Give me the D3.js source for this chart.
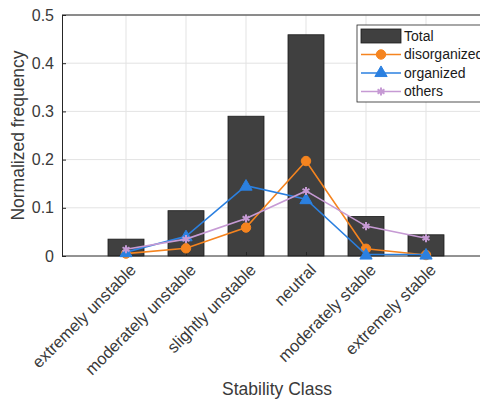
<!DOCTYPE html>
<html>
<head>
<meta charset="utf-8">
<script src="https://cdn.jsdelivr.net/npm/d3@7"></script>
<style>
  body { margin: 0; background: #fff; }
  svg { display: block; font-family: "Liberation Sans", Arial, sans-serif; }
</style>
</head>
<body>
<div class="chart"></div>
<script>
// 데이터
const categories = ['extremely unstable', 'moderately unstable', 'slightly unstable', 'neutral', 'moderately stable', 'extremely stable'];
const total        = [0.035, 0.094, 0.290, 0.459, 0.082, 0.044];
const disorganized = [0.005, 0.016, 0.059, 0.197, 0.015, 0.002];
const organized    = [0.008, 0.041, 0.146, 0.118, 0.003, 0.003];
const others       = [0.014, 0.035, 0.078, 0.135, 0.062, 0.037];
const yTicks = [0, 0.1, 0.2, 0.3, 0.4, 0.5];

const W = 480, H = 400;
const Margin = {top: 15, left: 62, bottom: 144};
const textColor = '#3a3a3a';

const svg = d3.select('.chart').append('svg')
  .attr('width', W).attr('height', H);

// x: 카테고리 위치 1..6
const x = d3.scaleLinear([0, 7], [66, 486]);
const y = d3.scaleLinear([0, 0.5], [H - Margin.bottom, Margin.top]);
const barW = x(0.6) - x(0);
const xLeft = Margin.left, xRight = x(7);

// 그리드
svg.append('g')
  .selectAll('line')
  .data(d3.range(1, 7))
  .join('line')
    .attr('x1', d => x(d)).attr('x2', d => x(d))
    .attr('y1', y(0)).attr('y2', y(0.5))
    .attr('stroke', '#e3e3e3');
svg.append('g')
  .selectAll('line')
  .data(yTicks.slice(1))
  .join('line')
    .attr('x1', xLeft).attr('x2', xRight)
    .attr('y1', d => y(d)).attr('y2', d => y(d))
    .attr('stroke', '#e3e3e3');

// 막대
svg.append('g')
  .selectAll('rect')
  .data(total)
  .join('rect')
    .attr('x', (d, i) => x(i + 1) - barW / 2)
    .attr('y', d => y(d))
    .attr('width', barW)
    .attr('height', d => y(0) - y(d))
    .attr('fill', '#404040')
    .attr('stroke', '#1a1a1a')
    .attr('stroke-width', 0.8);

// 축
const yAxis = d3.axisLeft(y).tickValues(yTicks).tickFormat(d => d === 0 ? '0' : d3.format('.1f')(d))
  .tickSizeInner(-4).tickSizeOuter(0).tickPadding(8);
svg.append('g')
  .attr('transform', `translate(${xLeft},0)`)
  .call(yAxis)
  .call(g => g.select('.domain').attr('stroke', '#262626'))
  .call(g => g.selectAll('.tick line').attr('stroke', '#262626'))
  .selectAll('text')
    .attr('font-size', '16px')
    .attr('fill', textColor);

const xAxis = d3.axisBottom(x).tickValues(d3.range(1, 7)).tickFormat('')
  .tickSizeInner(-4).tickSizeOuter(0);
svg.append('g')
  .attr('transform', `translate(0,${y(0)})`)
  .call(xAxis)
  .call(g => g.select('.domain').attr('d', `M${xLeft},0H${xRight}`).attr('stroke', '#262626'))
  .call(g => g.selectAll('.tick line').attr('stroke', '#262626'));

// 위쪽 테두리
svg.append('line')
  .attr('x1', xLeft).attr('x2', xRight)
  .attr('y1', y(0.5)).attr('y2', y(0.5))
  .attr('stroke', '#262626');

// x 눈금 레이블 (45도 회전)
svg.append('g')
  .selectAll('text')
  .data(categories)
  .join('text')
    .attr('transform', (d, i) => `translate(${x(i + 1) + 11},${y(0) + 15}) rotate(-45)`)
    .attr('text-anchor', 'end')
    .attr('font-size', '16.5px')
    .attr('fill', textColor)
    .text(d => d);

// 축 제목
svg.append('text')
  .attr('transform', `translate(24,${(y(0) + y(0.5)) / 2}) rotate(-90)`)
  .attr('text-anchor', 'middle')
  .attr('font-size', '17.5px')
  .attr('fill', textColor)
  .text('Normalized frequency');
svg.append('text')
  .attr('x', 277).attr('y', 395)
  .attr('text-anchor', 'middle')
  .attr('font-size', '17.5px')
  .attr('fill', textColor)
  .text('Stability Class');

// 선 시리즈
const series = [
  {name: 'disorganized', values: disorganized, color: '#f5841f', marker: 'circle'},
  {name: 'organized', values: organized, color: '#2b80e0', marker: 'triangle'},
  {name: 'others', values: others, color: '#c69ad4', marker: 'star'}
];
const line = d3.line().x((d, i) => x(i + 1)).y(d => y(d));
const markerPath = (m) => {
  if (m === 'circle') return d3.symbol(d3.symbolCircle, 70)();
  if (m === 'triangle') return d3.symbol(d3.symbolTriangle, 65)();
  return d3.symbol(d3.symbolAsterisk, 45)();
};

series.forEach(s => {
  const g = svg.append('g');
  g.append('path')
    .attr('d', line(s.values))
    .attr('fill', 'none')
    .attr('stroke', s.color)
    .attr('stroke-width', 1.6);
  g.selectAll('path.m')
    .data(s.values)
    .join('path')
      .attr('class', 'm')
      .attr('transform', (d, i) => `translate(${x(i + 1)},${y(d) + (s.marker === 'triangle' ? 1 : 0)})`)
      .attr('d', markerPath(s.marker))
      .attr('fill', s.color)
      .attr('stroke', s.color)
      .attr('stroke-width', s.marker === 'star' ? 2 : 1);
});

// 범례
const lg = svg.append('g').attr('transform', 'translate(357,25)');
lg.append('rect')
  .attr('width', 130).attr('height', 77)
  .attr('fill', '#fff')
  .attr('stroke', '#262626')
  .attr('stroke-width', 0.8);
const legendItems = [{name: 'Total'}].concat(series);
legendItems.forEach((d, i) => {
  const cy = 11 + i * 18.5;
  if (i === 0) {
    lg.append('rect')
      .attr('x', 4).attr('y', cy - 7).attr('width', 40).attr('height', 14)
      .attr('fill', '#404040').attr('stroke', '#1a1a1a').attr('stroke-width', 0.8);
  } else {
    lg.append('line')
      .attr('x1', 4).attr('x2', 44).attr('y1', cy).attr('y2', cy)
      .attr('stroke', d.color).attr('stroke-width', 1.6);
    lg.append('path')
      .attr('transform', `translate(24,${cy})`)
      .attr('d', markerPath(d.marker))
      .attr('fill', d.color).attr('stroke', d.color)
      .attr('stroke-width', d.marker === 'star' ? 2 : 1);
  }
  lg.append('text')
    .attr('x', 47).attr('y', cy)
    .attr('dy', '0.35em')
    .attr('font-size', '14px')
    .attr('fill', '#1a1a1a')
    .text(d.name);
});
</script>
</body>
</html>
